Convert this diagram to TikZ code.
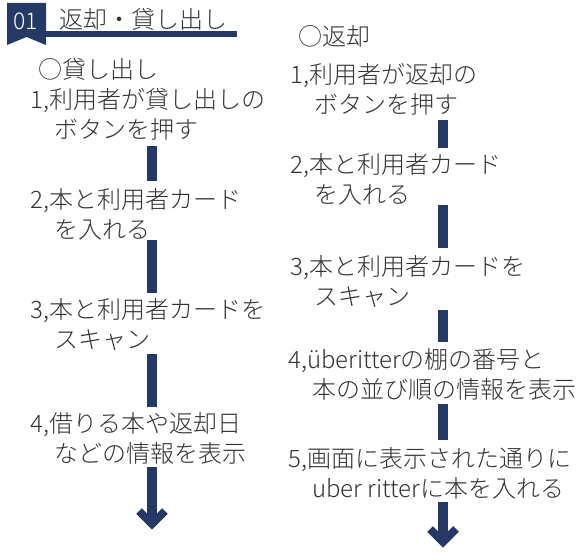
\documentclass[tikz,border=0pt]{standalone}
\usepackage{fontspec}
\setmainfont{Noto Sans CJK JP Light}
\usetikzlibrary{calc}
\definecolor{navy}{HTML}{263966}
\definecolor{inkgray}{HTML}{333333}
\begin{document}
\begin{tikzpicture}[x=1pt,y=-1pt,
  stepnode/.style={anchor=north west,inner sep=0pt,align=left,text=inkgray,font=\fontsize{24}{30}\selectfont},
  bar/.style={draw=navy,line width=10pt},
  chev/.style={draw=navy,line width=8pt,line join=miter,line cap=butt},
  badge/.style={fill=navy,draw=none},
  rule/.style={draw=navy,line width=6.5pt}]
\useasboundingbox[fill=white] (0,0) rectangle (577,553);
% header
\path[badge] (7,3) -- (46,3) -- (46,45) -- (26.5,37) -- (7,45) -- cycle;
\node[text=white,font=\fontsize{23}{28}\selectfont,inner sep=0pt] (num) at (25.5,21.5) {01};
\coordinate (rulestart) at (46,34);
\coordinate (ruleend) at (237,34);
\draw[rule] (rulestart) -- (ruleend);
\node[stepnode] (title) at (59,8) {返却・貸し出し};
% column anchors
\coordinate (lx) at (152,0);
\coordinate (rx) at (443,0);
% left column
\node[stepnode] (lh) at (38,58) {○貸し出し};
\node[stepnode] (l1) at (30,88) {1,利用者が貸し出しの\\\hspace*{1em}ボタンを押す};
\node[stepnode] (l2) at (30,188) {2,本と利用者カード\\\hspace*{1em}を入れる};
\node[stepnode] (l3) at (30,298) {3,本と利用者カードを\\\hspace*{1em}スキャン};
\node[stepnode] (l4) at (30,412) {4,借りる本や返却日\\\hspace*{1em}などの情報を表示};
\coordinate (ltip) at (152,524);
\draw[bar] ([yshift=-6pt]l1.south -| lx) -- ([yshift=7pt]l2.north -| lx);
\draw[bar] (l2.south -| lx) -- ([yshift=5pt]l3.north -| lx);
\draw[bar] ([yshift=-4pt]l3.south -| lx) -- ([yshift=5pt]l4.north -| lx);
\draw[bar] ([yshift=-3pt]l4.south -| lx) -- (ltip);
\draw[chev] ([shift={(-13,-13)}]ltip) -- (ltip) -- ([shift={(13,-13)}]ltip);
% right column
\node[stepnode] (rh) at (298,25) {○返却};
\node[stepnode] (r1) at (290,63) {1,利用者が返却の\\\hspace*{1em}ボタンを押す};
\node[stepnode] (r2) at (290,153) {2,本と利用者カード\\\hspace*{1em}を入れる};
\node[stepnode] (r3) at (290,255) {3,本と利用者カードを\\\hspace*{1em}スキャン};
\node[stepnode] (r4) at (288,348) {4,überitterの棚の番号と\\\hspace*{1em}本の並び順の情報を表示};
\node[stepnode] (r5) at (288,447) {5,画面に表示された通りに\\\hspace*{1em}uber ritterに本を入れる};
\coordinate (rtip) at (443,542);
\draw[bar] ([yshift=-5pt]r1.south -| rx) -- ([yshift=5pt]r2.north -| rx);
\draw[bar] (r2.south -| rx) -- ([yshift=7pt]r3.north -| rx);
\draw[bar] ([yshift=-3pt]r3.south -| rx) -- ([yshift=6pt]r4.north -| rx);
\draw[bar] ([yshift=-4pt]r4.south -| rx) -- ([yshift=7pt]r5.north -| rx);
\draw[bar] ([yshift=-3pt]r5.south -| rx) -- (rtip);
\draw[chev] ([shift={(-13,-13)}]rtip) -- (rtip) -- ([shift={(13,-13)}]rtip);
\end{tikzpicture}
\end{document}
